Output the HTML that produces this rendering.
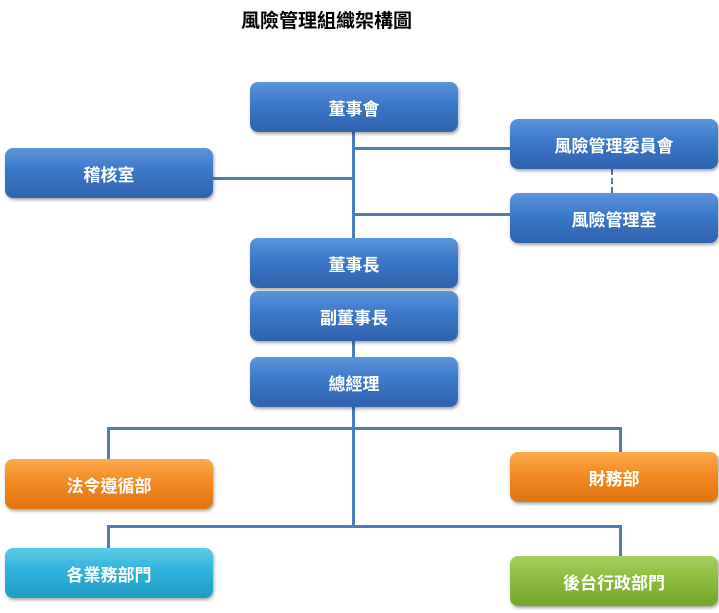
<!DOCTYPE html>
<html><head><meta charset="utf-8"><style>
body{margin:0;width:719px;height:613px;background:#fff;position:relative;overflow:hidden;font-family:"Liberation Sans","Noto Sans CJK TC",sans-serif}
.t{position:absolute;left:238px;width:177px;top:10px;text-align:center;font-weight:bold;font-size:19px;line-height:24px;white-space:nowrap;color:#000}
.b{position:absolute;width:208px;height:50px;border-radius:8px;color:#fff;font-size:17px;font-weight:bold;display:flex;align-items:center;justify-content:center;box-shadow:1px 2px 3px rgba(0,0,0,.35)}
.bl{background:linear-gradient(#5a95dc,#3b78c8 45%,#2e63ad);}
.or{background:linear-gradient(#fbab4d,#f48a22 45%,#e07510);}
.cy{background:linear-gradient(#5ccbe8,#2fb3dc 45%,#1f9cc4);}
.gr{background:linear-gradient(#a6d062,#8cbc3f 45%,#76a52d);}
.l{position:absolute;background:#4a7ebb}
</style></head><body>
<div class="t">風險管理組織架構圖</div>
<div class="l" style="left:352px;top:130px;width:3px;height:110px"></div>
<div class="l" style="left:353px;top:147px;width:158px;height:3px"></div>
<div class="l" style="left:353px;top:213px;width:158px;height:3px"></div>
<div class="l" style="left:211px;top:177px;width:142px;height:3px"></div>
<div style="position:absolute;left:611px;top:169px;height:24px;border-left:2px dashed #4a7ebb"></div>
<div class="l" style="left:352px;top:339px;width:3px;height:20px"></div>
<div class="l" style="left:352px;top:405px;width:3px;height:122px"></div>
<div class="l" style="left:107px;top:427px;width:515px;height:3px"></div>
<div class="l" style="left:107px;top:427px;width:3px;height:34px"></div>
<div class="l" style="left:619px;top:427px;width:3px;height:27px"></div>
<div class="l" style="left:107px;top:525px;width:515px;height:3px"></div>
<div class="l" style="left:107px;top:525px;width:3px;height:25px"></div>
<div class="l" style="left:619px;top:525px;width:3px;height:33px"></div>
<div class="b bl" style="left:250px;top:82px">董事會</div>
<div class="b bl" style="left:510px;top:119px">風險管理委員會</div>
<div class="b bl" style="left:5px;top:148px">稽核室</div>
<div class="b bl" style="left:510px;top:193px">風險管理室</div>
<div class="b bl" style="left:250px;top:238px">董事長</div>
<div class="b bl" style="left:250px;top:291px">副董事長</div>
<div class="b bl" style="left:250px;top:357px">總經理</div>
<div class="b or" style="left:5px;top:459px">法令遵循部</div>
<div class="b or" style="left:510px;top:452px">財務部</div>
<div class="b cy" style="left:5px;top:548px">各業務部門</div>
<div class="b gr" style="left:510px;top:556px">後台行政部門</div>
</body></html>
